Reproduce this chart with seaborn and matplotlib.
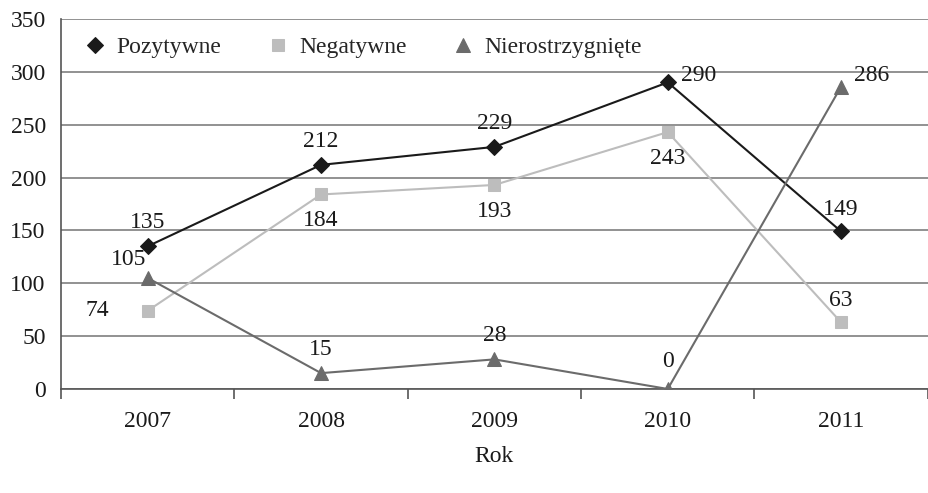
import matplotlib
matplotlib.use("Agg")
import matplotlib.pyplot as plt
import seaborn as sns
import pandas as pd

years = ["2007", "2008", "2009", "2010", "2011"]
pozytywne = [135, 212, 229, 290, 149]
negatywne = [74, 184, 193, 243, 63]
nierostrzygniete = [105, 15, 28, 0, 286]
y_ticks = [0, 50, 100, 150, 200, 250, 300, 350]

series = [
    ("Pozytywne", pozytywne, "#1a1a1a", "D", 8),
    ("Negatywne", negatywne, "#bdbdbd", "s", 8),
    ("Nierostrzygnięte", nierostrzygniete, "#6b6b6b", "^", 10),
]

# label offsets (points) per series and year
offsets = {
    "Pozytywne": [(0, 17), (0, 17), (0, 17), (22, 5), (0, 16)],
    "Negatywne": [(-36, 0), (0, -19), (0, -19), (0, -19), (0, 16)],
    "Nierostrzygnięte": [(-14, 13), (0, 17), (0, 17), (0, 20), (22, 8)],
}

sns.set_theme(style="white")
plt.rcParams["font.family"] = ["Liberation Serif", "DejaVu Serif"]
FS = 17

fig = plt.figure(figsize=(9.29, 4.93), dpi=100)
ax = fig.add_axes([0.0657, 0.211, 0.933, 0.7505])

pos = list(range(len(years)))
for name, vals, color, marker, ms in series:
    df = pd.DataFrame({"x": pos, "y": vals})
    sns.lineplot(data=df, x="x", y="y", ax=ax, color=color, marker=marker,
                 markersize=ms, markeredgecolor=color, linewidth=1.5,
                 label=name, zorder=3)
    for (dx, dy), xi, v in zip(offsets[name], pos, vals):
        ax.annotate(str(v), (xi, v), xytext=(dx, dy), textcoords="offset points",
                    ha="center", va="center", fontsize=FS, color="#1a1a1a", zorder=4)

ax.set_xlim(-0.5, len(years) - 0.5)
ax.set_ylim(0, 350)
ax.set_yticks(y_ticks)
ax.set_yticklabels([str(t) for t in y_ticks], fontsize=FS, color="#1a1a1a")
ax.set_xticks(pos)
ax.set_xticklabels(years, fontsize=FS, color="#1a1a1a")
ax.set_xticks([p - 0.5 for p in range(len(years) + 1)], minor=True)
ax.tick_params(axis="x", which="major", length=0, pad=16)
ax.tick_params(axis="x", which="minor", length=7, width=1.2, color="#555555", direction="out")
ax.tick_params(axis="y", length=7, width=1.2, color="#555555", direction="out", pad=4)
ax.tick_params(axis="x", which="minor", bottom=True)

ax.yaxis.grid(True, color="#7f7f7f", linewidth=1.2)
ax.xaxis.grid(False)
ax.set_axisbelow(True)
for side in ["top", "right"]:
    ax.spines[side].set_visible(False)
for side in ["left", "bottom"]:
    ax.spines[side].set_color("#555555")
    ax.spines[side].set_linewidth(1.2)

ax.set_xlabel("Rok", fontsize=FS, color="#1a1a1a", labelpad=10)
ax.set_ylabel("")

leg = ax.legend(loc="upper left", bbox_to_anchor=(0.004, 1.01), ncol=3, frameon=False,
                fontsize=FS, handlelength=0.8, handletextpad=0.5, columnspacing=2.0)
for h in leg.get_lines():
    h.set_linestyle("None")

fig.savefig("out.png", dpi=100)
